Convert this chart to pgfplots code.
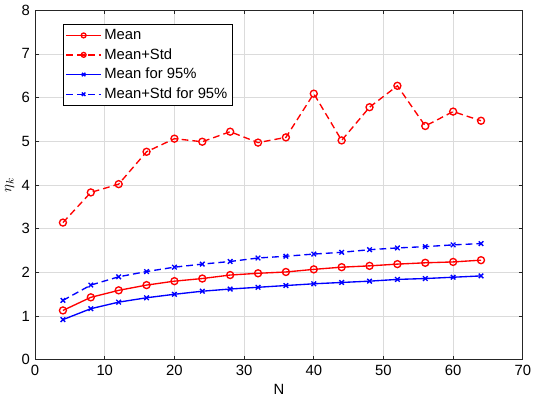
\documentclass[border=0pt]{standalone}
\usepackage{fontspec}
\setmainfont{Liberation Sans}
\usepackage{pgfplots}
\pgfplotsset{compat=1.18}
\begin{document}
\fontsize{11pt}{13pt}\selectfont
\begin{tikzpicture}
\begin{axis}[
  scale only axis,
  width=362pt, height=259.5pt,
  xmin=0, xmax=70, ymin=0, ymax=8,
  xtick={0,10,...,70}, ytick={0,1,...,8},
  tick align=inside, tick pos=both,
  major tick length=3pt,
  grid=major,
  major grid style={color=black!14, line width=0.5pt},
  axis line style={line width=0.5pt, color=black!85},
  every tick/.style={color=black!85, line width=0.5pt},
  /pgf/number format/assume math mode=true,
  tick label style={font=\fontsize{11pt}{13pt}\selectfont},
  xlabel={N}, ylabel={$\eta_k$},
  label style={font=\fontsize{11pt}{13pt}\selectfont},
  xlabel style={yshift=1pt},
  ylabel style={yshift=-2pt},
  legend style={at={(rel axis cs:0.058,0.96)}, anchor=north west,
    draw=black, line width=0.5pt, inner sep=1.5pt, row sep=1pt,
    font=\fontsize{11pt}{13pt}\selectfont},
  legend cell align=left,
  legend image post style={mark size=1.8pt, line width=1pt},
  legend image code/.code={\draw[mark repeat=2,mark phase=2,#1] plot coordinates {(0cm,0cm) (0.45cm,0cm) (0.9cm,0cm)};},
]
\addplot[red, line width=1pt, mark=o, mark size=2.6pt, mark options={solid}] coordinates {
(4,1.13) (8,1.43) (12,1.59) (16,1.71) (20,1.80) (24,1.86) (28,1.94) (32,1.98)
(36,2.01) (40,2.07) (44,2.12) (48,2.15) (52,2.19) (56,2.22) (60,2.24) (64,2.28)};
\addlegendentry{Mean}
\addplot[red, line width=1pt, dashed, dash pattern=on 5pt off 3pt, mark=o, mark size=2.6pt, mark options={solid}] coordinates {
(4,3.14) (8,3.83) (12,4.02) (16,4.76) (20,5.06) (24,4.99) (28,5.22) (32,4.97)
(36,5.09) (40,6.09) (44,5.02) (48,5.78) (52,6.27) (56,5.35) (60,5.68) (64,5.47)};
\addlegendentry{Mean+Std}
\addplot[blue, line width=1pt, mark=x, mark size=2.4pt, mark options={solid}] coordinates {
(4,0.92) (8,1.17) (12,1.32) (16,1.42) (20,1.50) (24,1.57) (28,1.62) (32,1.66)
(36,1.70) (40,1.74) (44,1.77) (48,1.80) (52,1.84) (56,1.86) (60,1.89) (64,1.92)};
\addlegendentry{Mean for 95\%}
\addplot[blue, line width=1pt, dashed, dash pattern=on 5pt off 3pt, mark=x, mark size=2.4pt, mark options={solid}] coordinates {
(4,1.36) (8,1.71) (12,1.90) (16,2.02) (20,2.12) (24,2.19) (28,2.25) (32,2.33)
(36,2.37) (40,2.42) (44,2.46) (48,2.52) (52,2.56) (56,2.59) (60,2.63) (64,2.66)};
\addlegendentry{Mean+Std for 95\%}
\end{axis}
\end{tikzpicture}
\end{document}
